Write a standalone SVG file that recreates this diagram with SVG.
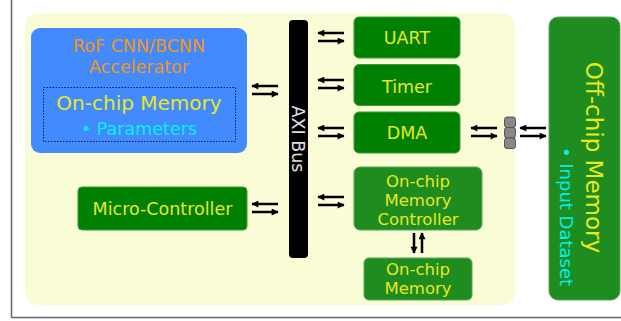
<svg xmlns="http://www.w3.org/2000/svg" width="621" height="321" viewBox="0 0 621 321">
<defs>
<marker id="ah" viewBox="0 0 10 10" refX="9" refY="5" markerWidth="3.2" markerHeight="2.8" orient="auto" markerUnits="strokeWidth">
<path d="M0,0 L10,5 L0,10 z" fill="#000"/>
</marker>
<style>
text{font-family:"DejaVu Sans","Liberation Sans",sans-serif;}
.y{fill:#e8e820;}
.c{fill:#00f0f0;}
.dk{fill:#008000;stroke:#3f9a3f;stroke-width:1;}
.lt{fill:#1e8c1e;stroke:#5aa55a;stroke-width:1;}
.a{stroke:#000;stroke-width:2.5;fill:none;marker-end:url(#ah);}
.t{font-size:17.5px;text-anchor:middle;}
</style>
</defs>
<rect x="0" y="0" width="621" height="321" fill="#fff"/>
<rect x="11.5" y="-10" width="700" height="327.5" fill="none" stroke="#666" stroke-width="1.5"/>
<rect id="soc" x="25" y="13" width="490" height="292" rx="13" fill="#fafcd6"/>
<g id="accelerator">
<rect x="31" y="28" width="216" height="125" rx="9" fill="#448aff"/>
<text class="t" x="139" y="52" fill="#f0960f">RoF CNN/BCNN</text>
<text class="t" x="139" y="73" fill="#f0960f">Accelerator</text>
<rect x="43.5" y="87.5" width="192" height="54" fill="none" stroke="#0a1a50" stroke-width="1" stroke-dasharray="1.5,1.5"/>
<text class="y" x="139" y="110" font-size="20" text-anchor="middle">On-chip Memory</text>
<text class="c t" x="139" y="135">• Parameters</text>
</g>
<g id="axi-bus">
<rect x="289" y="20" width="19" height="238" rx="4" fill="#000"/>
<text transform="translate(291.5,139) rotate(90)" x="0" y="0" class="t" fill="#e0e0e0">AXI Bus</text>
</g>
<g id="uart">
<rect class="dk" x="354" y="17" width="106" height="41" rx="5"/>
<text class="y t" x="407" y="44">UART</text>
</g>
<g id="timer">
<rect class="dk" x="354" y="64.5" width="106" height="41" rx="5"/>
<text class="y t" x="407" y="92.5">Timer</text>
</g>
<g id="dma">
<rect class="dk" x="354" y="112" width="106" height="41" rx="5"/>
<text class="y t" x="407" y="139">DMA</text>
</g>
<g id="micro-controller">
<rect class="dk" x="78" y="187" width="169" height="43" rx="4"/>
<text class="y t" x="162.5" y="215">Micro-Controller</text>
</g>
<g id="memory-controller">
<rect class="lt" x="354" y="167" width="128" height="63" rx="6"/>
<text class="y" x="418" y="187" font-size="16.5" text-anchor="middle">On-chip</text>
<text class="y" x="418" y="206" font-size="16.5" text-anchor="middle">Memory</text>
<text class="y" x="418" y="225" font-size="16.5" text-anchor="middle">Controller</text>
</g>
<g id="onchip-memory">
<rect class="lt" x="364" y="258" width="108" height="42" rx="5"/>
<text class="y" x="418" y="275" font-size="16.5" text-anchor="middle">On-chip</text>
<text class="y" x="418" y="294" font-size="16.5" text-anchor="middle">Memory</text>
</g>
<g id="offchip-memory">
<rect class="lt" x="549" y="17" width="71" height="283" rx="9" stroke="none"/>
<text transform="translate(586,157.5) rotate(90)" x="0" y="0" class="y" font-size="23" text-anchor="middle">Off-chip Memory</text>
<text transform="translate(560,216.5) rotate(90)" x="0" y="0" class="c" font-size="18" text-anchor="middle">• Input Dataset</text>
</g>
<g id="connector-port">
<rect x="504.5" y="117" width="11" height="10.5" rx="2.5" fill="#888" stroke="#555" stroke-width="1"/>
<rect x="504.5" y="127.5" width="11" height="10.5" rx="2.5" fill="#888" stroke="#555" stroke-width="1"/>
<rect x="504.5" y="138" width="11" height="10.5" rx="2.5" fill="#888" stroke="#555" stroke-width="1"/>
</g>
<g id="connectors">
<path class="a" d="M278,86 H252"/><path class="a" d="M252,94 H278"/>
<path class="a" d="M278,204 H252"/><path class="a" d="M252,212 H278"/>
<path class="a" d="M344,33 H318"/><path class="a" d="M318,41 H344"/>
<path class="a" d="M344,80 H318"/><path class="a" d="M318,88 H344"/>
<path class="a" d="M344,128 H318"/><path class="a" d="M318,136 H344"/>
<path class="a" d="M344,197 H318"/><path class="a" d="M318,205 H344"/>
<path class="a" d="M497,128 H471"/><path class="a" d="M471,136 H497"/>
<path class="a" d="M546,128 H520"/><path class="a" d="M520,136 H546"/>
<path class="a" d="M414,233 V253"/><path class="a" d="M422,253 V233"/>
</g>
</svg>
